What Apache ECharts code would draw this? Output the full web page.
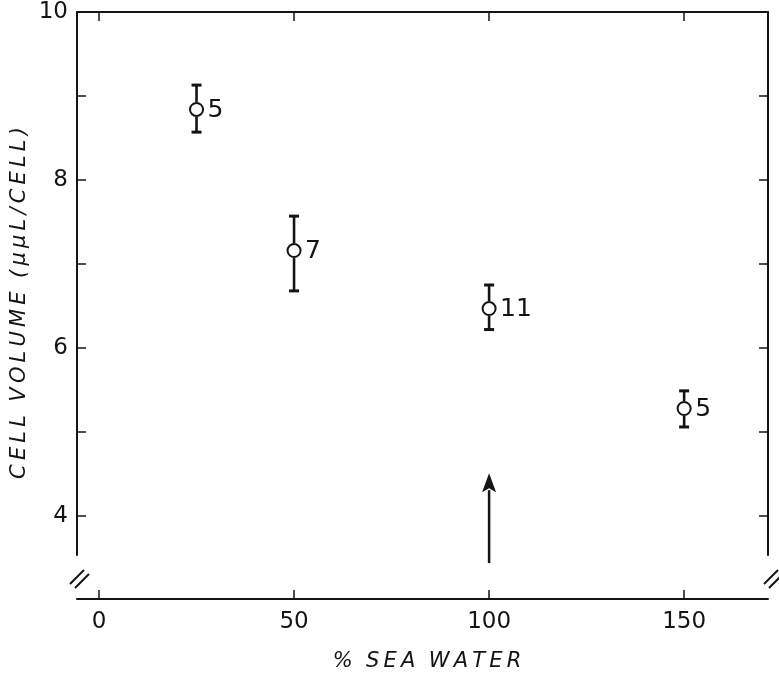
<!DOCTYPE html>
<html>
<head>
<meta charset="utf-8">
<script src="https://cdn.jsdelivr.net/npm/echarts@6/dist/echarts.min.js"></script>
<style>
html,body{margin:0;padding:0;background:#fff;}
#chart{width:779px;height:674px;}
</style>
</head>
<body>
<div id="chart"></div>
<script>
// ---- data ----
const seaWaterPct = [25, 50, 100, 150];
const meanVolume  = [8.84, 7.16, 6.47, 5.28];
const upperVolume = [9.13, 7.57, 6.75, 5.49];
const lowerVolume = [8.57, 6.68, 6.22, 5.06];
const nLabels     = ['5', '7', '11', '5'];
const xTickValues = [0, 50, 100, 150];
const yTickValues = [4, 5, 6, 7, 8, 9, 10];
const yLabelValues = [4, 6, 8, 10];
const arrowX = [100];
const arrowFrom = [3.44];
const arrowTo = [4.51];

const INK = '#141414';
const FONT = '"DejaVu Sans", sans-serif';
const TS = '\u2009';
function spaced(s) { return s.split('').join(TS); }

const chart = echarts.init(document.getElementById('chart'), null, {renderer: 'canvas'});

const xMin = -5.64, xMax = 171.5;
const yMin = 3.536, yMax = 10;

const pointData = seaWaterPct.map((x, i) => [x, meanVolume[i], upperVolume[i], lowerVolume[i]]);
const arrowData = arrowX.map((x, i) => [x, arrowFrom[i], arrowTo[i]]);

const option = {
  backgroundColor: '#fff',
  animation: false,
  grid: {left: 77, top: 12, width: 691, height: 543, containLabel: false},
  xAxis: [
    {
      type: 'value', position: 'bottom', min: xMin, max: xMax, offset: 44,
      splitLine: {show: false},
      axisLine: {show: true, onZero: false, lineStyle: {color: INK, width: 2}},
      axisTick: {show: true, inside: true, length: 9, customValues: xTickValues, lineStyle: {color: INK, width: 1.5}},
      axisLabel: {show: true, customValues: xTickValues, margin: 12, color: INK, fontSize: 23, fontFamily: FONT}
    },
    {
      type: 'value', position: 'top', min: xMin, max: xMax,
      splitLine: {show: false},
      axisLine: {show: true, onZero: false, lineStyle: {color: INK, width: 2}},
      axisTick: {show: true, inside: true, length: 9, customValues: xTickValues, lineStyle: {color: INK, width: 1.5}},
      axisLabel: {show: false}
    }
  ],
  yAxis: [
    {
      type: 'value', position: 'left', min: yMin, max: yMax,
      splitLine: {show: false},
      axisLine: {show: true, onZero: false, lineStyle: {color: INK, width: 2}},
      axisTick: {show: true, inside: true, length: 9, customValues: yTickValues, lineStyle: {color: INK, width: 1.5}},
      axisLabel: {show: true, customValues: yLabelValues, margin: 9, color: INK, fontSize: 23, fontFamily: FONT}
    },
    {
      type: 'value', position: 'right', min: yMin, max: yMax,
      splitLine: {show: false},
      axisLine: {show: true, onZero: false, lineStyle: {color: INK, width: 2}},
      axisTick: {show: true, inside: true, length: 9, customValues: yTickValues, lineStyle: {color: INK, width: 1.5}},
      axisLabel: {show: false}
    }
  ],
  series: [
    {
      type: 'custom',
      xAxisIndex: 0, yAxisIndex: 0,
      clip: false,
      data: pointData,
      renderItem: function (params, api) {
        const x = api.value(0);
        const c = api.coord([x, api.value(1)]);
        const t = api.coord([x, api.value(2)]);
        const b = api.coord([x, api.value(3)]);
        const label = nLabels[params.dataIndex];
        const r = 6.5, cw = 5;
        const st = {stroke: INK, lineWidth: 2.6};
        return {
          type: 'group',
          children: [
            {type: 'line', shape: {x1: c[0], y1: t[1], x2: c[0], y2: c[1] - r - 1}, style: st},
            {type: 'line', shape: {x1: c[0], y1: c[1] + r + 1, x2: c[0], y2: b[1]}, style: st},
            {type: 'line', shape: {x1: c[0] - cw, y1: t[1], x2: c[0] + cw, y2: t[1]}, style: {stroke: INK, lineWidth: 3}},
            {type: 'line', shape: {x1: c[0] - cw, y1: b[1], x2: c[0] + cw, y2: b[1]}, style: {stroke: INK, lineWidth: 3}},
            {type: 'circle', shape: {cx: c[0], cy: c[1], r: r}, style: {fill: '#fff', stroke: INK, lineWidth: 2}},
            {type: 'text', x: c[0] + 11, y: c[1] + 1, style: {text: label, fill: INK, fontSize: 25, fontFamily: FONT, verticalAlign: 'middle', align: 'left'}}
          ]
        };
      }
    },
    {
      type: 'custom',
      xAxisIndex: 0, yAxisIndex: 0,
      clip: false,
      data: arrowData,
      renderItem: function (params, api) {
        const x = api.value(0);
        const p0 = api.coord([x, api.value(1)]);
        const p1 = api.coord([x, api.value(2)]);
        const hw = 7, hh = 19;
        return {
          type: 'group',
          children: [
            {type: 'line', shape: {x1: p0[0], y1: p0[1], x2: p1[0], y2: p1[1] + hh - 2}, style: {stroke: INK, lineWidth: 2.5}},
            {type: 'polygon', shape: {points: [[p1[0], p1[1]], [p1[0] - hw, p1[1] + hh], [p1[0], p1[1] + hh - 4], [p1[0] + hw, p1[1] + hh]]}, style: {fill: INK}}
          ]
        };
      }
    }
  ],
  graphic: [
    // axis break marks
    {type: 'line', shape: {x1: 70, y1: 584, x2: 84, y2: 570}, style: {stroke: INK, lineWidth: 2}},
    {type: 'line', shape: {x1: 75, y1: 588, x2: 89, y2: 574}, style: {stroke: INK, lineWidth: 2}},
    {type: 'line', shape: {x1: 764, y1: 584, x2: 778, y2: 570}, style: {stroke: INK, lineWidth: 2}},
    {type: 'line', shape: {x1: 769, y1: 588, x2: 783, y2: 574}, style: {stroke: INK, lineWidth: 2}},
    // axis titles
    {type: 'text', x: 20, y: 303, rotation: Math.PI / 2,
     style: {text: spaced('CELL') + '  ' + spaced('VOLUME') + '  ' + spaced('(μμL/CELL)'), fill: INK, fontSize: 21, fontStyle: 'italic', fontFamily: FONT, align: 'center', verticalAlign: 'middle'}},
    {type: 'text', x: 427, y: 662,
     style: {text: '%  ' + spaced('SEA') + '  ' + spaced('WATER'), fill: INK, fontSize: 21, fontStyle: 'italic', fontFamily: FONT, align: 'center', verticalAlign: 'middle'}}
  ]
};

chart.setOption(option);
</script>
</body>
</html>
